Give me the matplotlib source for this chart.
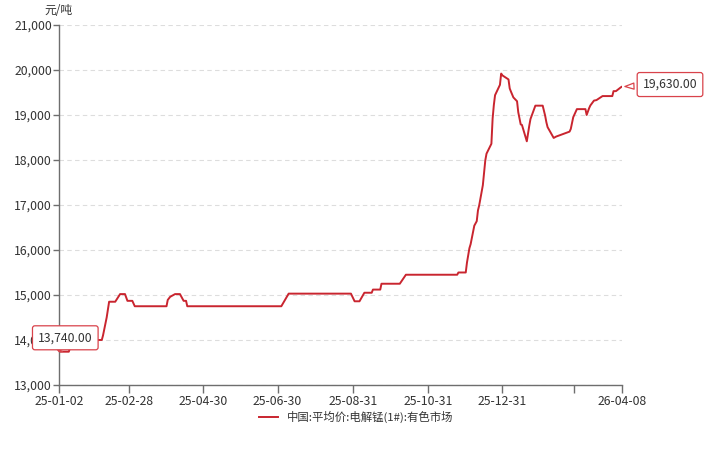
import numpy as np
import pandas as pd
import matplotlib
matplotlib.use("Agg")
import matplotlib.pyplot as plt
import matplotlib.dates as mdates
from matplotlib.ticker import FuncFormatter, MultipleLocator

plt.rcParams['font.family'] = ['Noto Sans CJK SC', 'DejaVu Sans']

# price points (vertices of the line), yuan / tonne
dates = [
    "2025-01-02", "2025-01-10", "2025-01-13", "2025-02-06", "2025-02-07", "2025-02-10",
    "2025-02-12", "2025-02-17", "2025-02-21", "2025-02-25", "2025-02-27", "2025-03-03",
    "2025-03-05", "2025-03-31", "2025-04-01", "2025-04-03", "2025-04-07", "2025-04-11",
    "2025-04-14", "2025-04-16", "2025-04-17", "2025-07-03", "2025-07-09", "2025-08-29",
    "2025-09-01", "2025-09-05", "2025-09-09", "2025-09-15", "2025-09-16", "2025-09-22",
    "2025-09-23", "2025-10-08", "2025-10-13", "2025-11-24", "2025-11-25", "2025-12-01",
    "2025-12-02", "2025-12-04", "2025-12-05", "2025-12-08", "2025-12-10", "2025-12-11",
    "2025-12-12", "2025-12-15", "2025-12-17", "2025-12-18", "2025-12-22", "2025-12-23",
    "2025-12-24", "2025-12-25", "2025-12-29", "2025-12-30", "2025-12-31", "2026-01-05",
    "2026-01-06", "2026-01-07", "2026-01-09", "2026-01-12", "2026-01-13", "2026-01-15",
    "2026-01-16", "2026-01-20", "2026-01-22", "2026-01-23", "2026-01-27", "2026-02-02",
    "2026-02-04", "2026-02-05", "2026-02-06", "2026-02-11", "2026-02-13", "2026-02-24",
    "2026-02-25", "2026-02-27", "2026-03-02", "2026-03-09", "2026-03-10", "2026-03-12",
    "2026-03-13", "2026-03-16", "2026-03-18", "2026-03-23", "2026-03-31", "2026-04-01",
    "2026-04-03", "2026-04-07", "2026-04-08",
]
prices = [
    13740, 13740, 14000, 14000, 14100, 14500,
    14850, 14850, 15020, 15020, 14870, 14870,
    14750, 14750, 14890, 14960, 15020, 15020,
    14870, 14870, 14750, 14750, 15030, 15030,
    14860, 14860, 15050, 15050, 15120, 15120,
    15250, 15250, 15450, 15450, 15500, 15500,
    15720, 16040, 16130, 16540, 16640, 16880,
    16990, 17440, 17990, 18140, 18360, 18920,
    19220, 19440, 19670, 19920, 19880, 19790,
    19590, 19520, 19390, 19305, 19060, 18790,
    18780, 18415, 18760, 18910, 19207, 19207,
    18985, 18840, 18730, 18490, 18520, 18630,
    18690, 18950, 19130, 19130, 19000, 19150,
    19210, 19320, 19330, 19420, 19420, 19530,
    19530, 19615, 19630,
]

tick_dates = ["2025-01-02", "2025-02-28", "2025-04-30", "2025-06-30", "2025-08-31",
              "2025-10-31", "2025-12-31", "2026-02-28", "2026-04-08"]
tick_labels = ["25-01-02", "25-02-28", "25-04-30", "25-06-30", "25-08-31",
               "25-10-31", "25-12-31", "", "26-04-08"]

series_name = "中国:平均价:电解锰(1#):有色市场"
unit = "元/吨"

x = pd.to_datetime(dates)
tx = pd.to_datetime(tick_dates)

text_color = "#333333"
axis_color = "#6e6e6e"
line_color = "#c9252f"

fig = plt.figure(figsize=(7.2, 4.54), dpi=100)
ax = fig.add_axes([0.082, 0.152, 0.782, 0.793])

ax.plot(x, prices, color=line_color, linewidth=1.4, label=series_name)

ax.set_ylim(13000, 21000)
ax.set_xlim(tx[0], tx[-1])
ax.yaxis.set_major_locator(MultipleLocator(1000))
ax.yaxis.set_major_formatter(FuncFormatter(lambda v, p: f"{int(v):,}"))
ax.set_xticks(tx)
ax.set_xticklabels(tick_labels)

for s in ["top", "right"]:
    ax.spines[s].set_visible(False)
for s in ["left", "bottom"]:
    ax.spines[s].set_color(axis_color)
    ax.spines[s].set_linewidth(1.0)

ax.tick_params(axis="y", colors=axis_color, labelcolor=text_color, labelsize=8.8,
               length=4, width=1, pad=1)
ax.tick_params(axis="x", colors=axis_color, labelcolor=text_color, labelsize=8.8,
               length=6, width=1, pad=1.5)
ax.grid(axis="y", color="#dddddd", linestyle=(0, (4, 3)), linewidth=0.8)
ax.set_axisbelow(True)

fig.text(0.081, 0.977, unit, fontsize=8.5, color=text_color, ha="center", va="center")

# first / last value callouts (the first one sits over the 14,000 label, as in the source)
box = dict(boxstyle="round,pad=0.45,rounding_size=0.2", fc="white", ec="#d9434b", lw=0.9)
arrow = dict(arrowstyle="wedge,tail_width=0.5,shrink_factor=0.5", fc="white",
             ec="#d9434b", lw=0.9)
ax.annotate(f"{prices[0]:,.2f}", xy=(x[0], prices[0]), xytext=(4.5, 10),
            textcoords="offset points", ha="center", va="center", fontsize=8.8,
            color=text_color, bbox=box, arrowprops=arrow, annotation_clip=False,
            zorder=5)
ax.annotate(f"{prices[-1]:,.2f}", xy=(x[-1], prices[-1]), xytext=(34.5, 1.5),
            textcoords="offset points", ha="center", va="center", fontsize=8.8,
            color=text_color, bbox=box, arrowprops=arrow, annotation_clip=False,
            zorder=5)

fig.legend(loc="center", bbox_to_anchor=(0.495, 0.081), frameon=False, fontsize=8.2,
           handlelength=1.6, labelcolor=text_color)

fig.savefig("out.png", dpi=100)
plt.close(fig)
